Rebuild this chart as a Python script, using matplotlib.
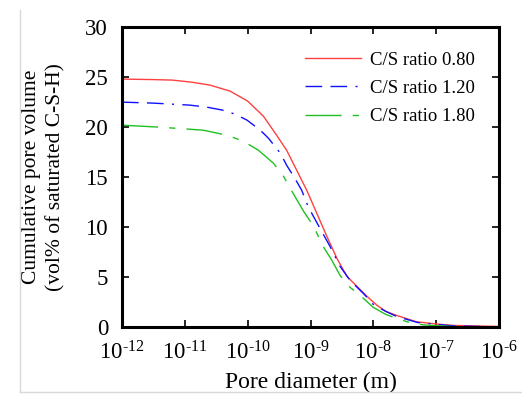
import numpy as np
import matplotlib.pyplot as plt
from matplotlib.lines import Line2D

plt.rcParams['font.family'] = ['Liberation Serif', 'DejaVu Serif']
plt.rcParams['mathtext.fontset'] = 'custom'
plt.rcParams['mathtext.rm'] = 'Liberation Serif'

# log10 of pore diameter (m) and cumulative pore volume
logd_080 = [-12, -11.5, -11.2, -10.9, -10.6, -10.28, -10.0, -9.75, -9.54, -9.38,
            -9.22, -9.06, -8.9, -8.74, -8.58, -8.42, -8.26, -8.1, -7.94, -7.8,
            -7.63, -7.31, -7.0, -6.73, -6]
vol_080 = [24.8, 24.75, 24.7, 24.5, 24.2, 23.6, 22.6, 21.1, 19.2, 17.7,
           15.7, 13.7, 11.4, 9.1, 6.9, 5.1, 4.1, 3.1, 2.2, 1.6,
           1.2, 0.56, 0.35, 0.2, 0.1]

logd_120 = [-12, -11.5, -10.92, -10.65, -10.4, -10.2, -10.01, -9.8, -9.67, -9.48,
            -9.38, -9.25, -9.14, -9.06, -8.98, -8.85, -8.69, -8.53, -8.37, -8.16,
            -8.0, -7.8, -7.63, -7.3, -7.0, -6.7, -6]
vol_120 = [22.5, 22.4, 22.2, 22.0, 21.7, 21.3, 20.7, 19.7, 18.9, 17.4,
           16.2, 14.9, 13.7, 12.4, 11.4, 9.9, 8.1, 6.1, 4.7, 3.4,
           2.3, 1.6, 1.1, 0.5, 0.3, 0.15, 0.05]

logd_180 = [-12, -11.4, -10.71, -10.33, -10.07, -9.83, -9.59, -9.43, -9.25, -9.11,
            -8.95, -8.81, -8.66, -8.53, -8.37, -8.21, -8.0, -7.8, -7.63, -7.4,
            -7.2, -6.7, -6]
vol_180 = [20.2, 20.0, 19.7, 19.2, 18.6, 17.7, 16.4, 15.1, 13.1, 11.6,
           10.1, 8.2, 6.7, 5.2, 4.0, 3.2, 2.0, 1.3, 0.9, 0.45,
           0.25, 0.08, 0.03]

labels = ['C/S ratio 0.80', 'C/S ratio 1.20', 'C/S ratio 1.80']
xexp = list(range(-12, -5))

fig = plt.figure(figsize=(5.22, 3.95), dpi=100)
ax = fig.add_axes([0.2337, 0.171, 0.956 - 0.2337, 0.9316 - 0.171])

ax.plot(10.0 ** np.array(logd_080), vol_080, color='#ff4040', lw=1.0, label=labels[0])
ax.plot(10.0 ** np.array(logd_120), vol_120, color='#1010ff', lw=1.0,
        dashes=(12, 6, 12, 6, 1.5, 6), label=labels[1])
ax.plot(10.0 ** np.array(logd_180), vol_180, color='#20c020', lw=1.0,
        dashes=(26, 8, 4.5, 8), label=labels[2])

ax.set_xscale('log')
ax.set_xlim(1e-12, 1e-6)
ax.set_ylim(0, 30)
ax.set_xticks([10.0 ** k for k in xexp])
# hyphen instead of minus sign, as in the original
ax.set_xticklabels(['$\\mathregular{10^{\u2010%d}}$' % (-k) for k in xexp])
ax.set_yticks(range(0, 31, 5))
ax.minorticks_off()
ax.tick_params(direction='in', length=5, width=1.2, top=True, right=True,
               labelsize=16.5, pad=10)
for s in ax.spines.values():
    s.set_linewidth(2.2)

ax.set_xlabel('Pore diameter (m)', fontsize=17, labelpad=5)
ax.set_ylabel('Cumulative pore volume\n(vol% of saturated C-S-H)', fontsize=15.5,
              linespacing=1.4, labelpad=14)

ax.legend(loc='upper right', frameon=False, fontsize=13.5, handlelength=3.0,
          handletextpad=0.45, labelspacing=0.6, borderaxespad=0.9)

# faint frame of the original figure
fig.add_artist(Line2D([20 / 522, 20 / 522], [1 - 10 / 395, 1 - 392 / 395],
                      transform=fig.transFigure, color='#d8d8d8', lw=1))
fig.add_artist(Line2D([20 / 522, 1], [1 - 392 / 395, 1 - 392 / 395],
                      transform=fig.transFigure, color='#d8d8d8', lw=1))

fig.savefig('out.png', dpi=100)
